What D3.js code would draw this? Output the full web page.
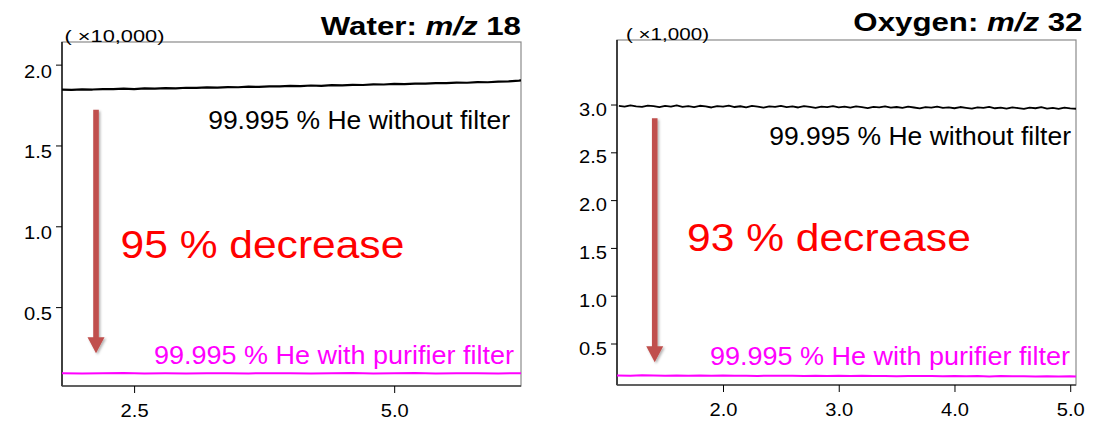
<!DOCTYPE html>
<html><head><meta charset="utf-8">
<script src="https://cdn.jsdelivr.net/npm/d3@7"></script>
<style>
body{margin:0;background:#fff}
svg{display:block}
text{font-family:"Liberation Sans",Arial,Helvetica,sans-serif}
</style>
</head><body>
<svg id="chart" width="1101" height="426"></svg>
<script>
// ---------------- DATA ----------------
// Water m/z 18 (x10,000)
const waterTime = [1.8,1.9,2.0,2.1,2.2,2.3,2.4,2.5,2.6,2.7,2.8,2.9,3.0,3.1,3.2,3.3,3.4,3.5,3.6,3.7,3.8,3.9,4.0,4.1,4.2,4.3,4.4,4.5,4.6,4.7,4.8,4.9,5.0,5.1,5.2,5.3,5.4,5.5,5.6,5.7,5.8,5.9,6.0,6.1,6.2,6.22];
const waterNoFilter = [1.846,1.844,1.847,1.846,1.849,1.848,1.851,1.849,1.853,1.851,1.855,1.853,1.857,1.856,1.859,1.858,1.861,1.860,1.864,1.862,1.866,1.865,1.868,1.867,1.871,1.869,1.873,1.872,1.875,1.874,1.878,1.877,1.881,1.880,1.883,1.882,1.886,1.885,1.889,1.888,1.892,1.891,1.895,1.897,1.901,1.903];
const waterMagTime = [1.8,2.0,2.2,2.4,2.6,2.8,3.0,3.2,3.4,3.6,3.8,4.0,4.2,4.4,4.6,4.8,5.0,5.2,5.4,5.6,5.8,6.0,6.2,6.22];
const waterWithFilter = [0.091,0.090,0.091,0.092,0.090,0.091,0.090,0.091,0.091,0.090,0.091,0.091,0.090,0.091,0.092,0.090,0.091,0.092,0.090,0.091,0.091,0.090,0.091,0.091];
const waterYTicks = [0.5,1.0,1.5,2.0];
const waterXTicks = [2.5,5.0];

// Oxygen m/z 32 (x1,000)
const oxyTime = [1.10,1.15,1.20,1.25,1.30,1.35,1.40,1.45,1.50,1.55,1.60,1.65,1.70,1.75,1.80,1.85,1.90,1.95,2.00,2.05,2.10,2.15,2.20,2.25,2.30,2.35,2.40,2.45,2.50,2.55,2.60,2.65,2.70,2.75,2.80,2.85,2.90,2.95,3.00,3.05,3.10,3.15,3.20,3.25,3.30,3.35,3.40,3.45,3.50,3.55,3.60,3.65,3.70,3.75,3.80,3.85,3.90,3.95,4.00,4.05,4.10,4.15,4.20,4.25,4.30,4.35,4.40,4.45,4.50,4.55,4.60,4.65,4.70,4.75,4.80,4.85,4.90,4.95,5.00,5.05];
const oxyNoFilter = [2.986,2.978,2.991,2.981,2.975,2.988,2.983,2.972,2.986,2.979,2.990,2.976,2.984,2.973,2.987,2.980,2.969,2.983,2.977,2.988,2.974,2.982,2.971,2.985,2.978,2.968,2.981,2.975,2.986,2.972,2.980,2.969,2.983,2.976,2.966,2.979,2.973,2.984,2.970,2.977,2.967,2.980,2.972,2.963,2.976,2.970,2.981,2.967,2.974,2.964,2.977,2.969,2.960,2.973,2.967,2.978,2.964,2.971,2.961,2.974,2.966,2.957,2.970,2.964,2.975,2.961,2.968,2.958,2.971,2.963,2.954,2.967,2.961,2.972,2.958,2.965,2.955,2.968,2.960,2.956];
const oxyMagTime = [1.08,1.2,1.3,1.4,1.5,1.6,1.7,1.8,1.9,2.0,2.1,2.2,2.3,2.4,2.5,2.6,2.7,2.8,2.9,3.0,3.1,3.2,3.3,3.4,3.5,3.6,3.7,3.8,3.9,4.0,4.1,4.2,4.3,4.4,4.5,4.6,4.7,4.8,4.9,5.0,5.05];
const oxyWithFilter = [0.166,0.164,0.167,0.165,0.163,0.166,0.164,0.165,0.162,0.165,0.163,0.164,0.161,0.164,0.162,0.163,0.160,0.163,0.161,0.162,0.159,0.162,0.160,0.161,0.158,0.161,0.159,0.160,0.157,0.160,0.158,0.159,0.156,0.159,0.157,0.158,0.155,0.158,0.156,0.157,0.155];
const oxyYTicks = [0.5,1.0,1.5,2.0,2.5,3.0];
const oxyXTicks = [2.0,3.0,4.0,5.0];

// Annotation arrows (time, from value, to value)
const waterArrow = [2.134, 1.721, 0.215];
const oxyArrow = [1.41, 2.856, 0.303];

// ---------------- DRAW ----------------
const svg = d3.select('#chart');
const defs = svg.append('defs');
const sh = defs.append('filter').attr('id','shadow').attr('x','-50%').attr('y','-10%').attr('width','200%').attr('height','120%');
sh.append('feDropShadow').attr('dx',1.5).attr('dy',1.5).attr('stdDeviation',1.2).attr('flood-color','#000').attr('flood-opacity',0.3);

const FONT = '"Liberation Sans",Arial,sans-serif';
function stxt(g, x, y, str, size, o) {
  o = o || {};
  const t = g.append('text')
    .attr('transform', `translate(${x},${y}) scale(${o.sx||1},1)`)
    .attr('text-anchor', o.anchor || 'start')
    .attr('font-size', size)
    .attr('font-weight', o.weight || 'normal')
    .attr('fill', o.fill || '#000');
  if (str !== null) t.text(str);
  return t;
}

function panel(cfg) {
  const g = svg.append('g');
  const x = d3.scaleLinear().domain(cfg.xDomain).range([cfg.left, cfg.right]);
  const y = d3.scaleLinear().domain(cfg.yDomain).range([cfg.bottom, cfg.top]);
  const W = cfg.right - cfg.left, H = cfg.bottom - cfg.top;

  g.append('rect').attr('x',cfg.left).attr('y',cfg.top).attr('width',W).attr('height',H)
    .attr('fill','none').attr('stroke','#8a8a8a').attr('stroke-width',1.2);

  const ya = g.append('g').attr('transform',`translate(${cfg.left},0)`)
    .call(d3.axisLeft(y).tickValues(cfg.yTicks).tickSize(6).tickFormat(d3.format('.1f')));
  ya.attr('font-size',null).attr('font-family',null);
  ya.select('.domain').attr('stroke','#000').attr('stroke-width',1.3).attr('d',`M0,${cfg.top}V${cfg.bottom}`);
  ya.selectAll('.tick line').attr('stroke','#000').attr('stroke-width',1);
  ya.selectAll('.tick text').attr('x',null).attr('dy',null)
    .attr('transform',`translate(-10,${cfg.yLabelDy}) scale(1.06,1)`)
    .style('font-size','19px').style('font-family',FONT).attr('fill','#000').attr('text-anchor','end');

  const xa = g.append('g').attr('transform',`translate(0,${cfg.bottom})`)
    .call(d3.axisBottom(x).tickValues(cfg.xTicks).tickSize(7).tickFormat(d3.format('.1f')));
  xa.attr('font-size',null).attr('font-family',null);
  xa.select('.domain').attr('stroke','#444').attr('stroke-width',1.3).attr('d',`M${cfg.left},0H${cfg.right}`);
  xa.selectAll('.tick line').attr('stroke','#000').attr('stroke-width',1);
  xa.selectAll('.tick text').attr('y',null).attr('dy',null)
    .attr('transform',`translate(0,${cfg.xLabelY - cfg.bottom}) scale(1.06,1)`)
    .style('font-size','19px').style('font-family',FONT).attr('fill','#000').attr('text-anchor','middle');

  const cid = 'clip' + cfg.id;
  defs.append('clipPath').attr('id',cid).append('rect').attr('x',cfg.left).attr('y',cfg.top).attr('width',W).attr('height',H);
  const plot = g.append('g').attr('clip-path',`url(#${cid})`);

  const line = d3.line().x(d => x(d[0])).y(d => y(d[1]));
  plot.append('path').datum(d3.zip(cfg.tBlack, cfg.vBlack)).attr('d', line)
    .attr('fill','none').attr('stroke','#000').attr('stroke-width',cfg.blackW).attr('stroke-linejoin','round');
  plot.append('path').datum(d3.zip(cfg.tMag, cfg.vMag)).attr('d', line)
    .attr('fill','none').attr('stroke','#ff00ff').attr('stroke-width',2).attr('stroke-linejoin','round');

  const [at, a0, a1] = cfg.arrow;
  const ax = x(at), ay0 = y(a0), ay1 = y(a1), hl = 16, hw = 8.5, sw = 2.8;
  const ag = g.append('g').attr('filter','url(#shadow)');
  ag.append('path')
    .attr('d',`M${ax-sw},${ay0}H${ax+sw}V${ay1-hl}H${ax+hw}L${ax},${ay1}L${ax-hw},${ay1-hl}H${ax-sw}Z`)
    .attr('fill','#c0504d');

  stxt(g, cfg.unitX, cfg.unitY, cfg.unit, 16.5).attr('textLength', cfg.unitW).attr('lengthAdjust','spacingAndGlyphs');

  const tt = stxt(g, cfg.titleX, cfg.titleY, null, 25, {anchor:'end', weight:'bold', sx:1.25});
  tt.append('tspan').text(cfg.titleName + ':  ');
  tt.append('tspan').attr('font-style','italic').text('m/z');
  tt.append('tspan').text(' ' + cfg.titleMz);

  stxt(g, cfg.blackX, cfg.blackY, '99.995 % He without filter', 25, {anchor:'end', sx:1.06});
  stxt(g, cfg.magX, cfg.magY, '99.995 % He with purifier filter', 25, {anchor:'end', sx:1.08, fill:'#ff00ff'});
  stxt(g, cfg.decX, cfg.decY, cfg.decText, 38, {sx:1.12, fill:'#ff0000'});
}

panel({
  id:'w', left:62, right:521, top:42, bottom:386,
  xDomain:[1.807, 6.219], yDomain:[0.012, 2.14],
  xTicks: waterXTicks, yTicks: waterYTicks, yLabelDy: 12.5, xLabelY: 417,
  tBlack: waterTime, vBlack: waterNoFilter, tMag: waterMagTime, vMag: waterWithFilter, blackW: 2.2,
  arrow: waterArrow,
  unit:'( \u00d710,000)', unitX:64.5, unitY:41.5, unitW:100,
  titleName:'Water', titleMz:'18', titleX:521, titleY:35,
  blackX:510, blackY:129, magX:514, magY:363.5,
  decText:'95 % decrease', decX:120.5, decY:258.3
});
panel({
  id:'o', left:617, right:1076, top:40, bottom:385,
  xDomain:[1.084, 5.05], yDomain:[0.066, 3.675],
  xTicks: oxyXTicks, yTicks: oxyYTicks, yLabelDy: 10.5, xLabelY: 415.5,
  tBlack: oxyTime, vBlack: oxyNoFilter, tMag: oxyMagTime, vMag: oxyWithFilter, blackW: 1.8,
  arrow: oxyArrow,
  unit:'( \u00d71,000)', unitX:626, unitY:39.5, unitW:83,
  titleName:'Oxygen', titleMz:'32', titleX:1082.5, titleY:31,
  blackX:1071, blackY:145, magX:1070, magY:365,
  decText:'93 % decrease', decX:687, decY:250.7
});
</script>
</body></html>
